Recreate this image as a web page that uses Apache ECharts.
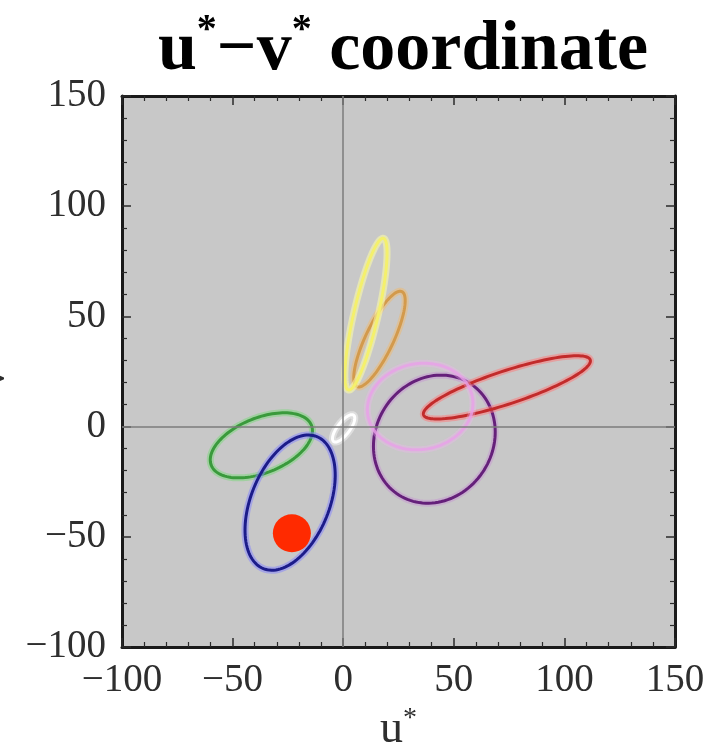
<!DOCTYPE html>
<html><head><meta charset="utf-8">
<script src="https://cdn.jsdelivr.net/npm/echarts@6/dist/echarts.min.js"></script>
<style>html,body{margin:0;padding:0;background:#fff}#c{width:722px;height:744px}</style>
</head><body><div id="c"></div>
<script>
// ---- data (u*, v* units) ----
const ellipseNames = ['orange', 'yellow', 'green', 'blue', 'purple', 'red', 'pink', 'white'];
const centerU   = [16.4, 10.3, -37.0, -24.0, 41.2, 74.0, 34.8, 0.2];
const centerV   = [39.7, 51.0, -8.5, -34.5, -5.7, 17.8, 9.1, -0.8];
const semiMajor = [23.8, 35.3, 24.4, 32.3, 30.0, 39.7, 24.0, 7.5];
const semiMinor = [6.3, 5.5, 12.5, 17.7, 26.5, 7.5, 19.5, 2.8];
const tiltDeg   = [64.8, 77.1, 22, 68, 58, 18.3, 10, 53];
const dotU = [-23.2];
const dotV = [-48.4];
const zeroLines = [0];
const tickMin = -100, tickMax = 150, tickStep = 50;

// ---- styles ----
const lineStyles = {
  orange: {core: '#d39a4c', halo: 'rgba(240,185,110,0.5)'},
  yellow: {core: '#f4f06c', halo: 'rgba(255,255,165,0.55)'},
  green:  {core: '#3a9a3c', halo: 'rgba(120,215,120,0.5)'},
  blue:   {core: '#1c1c8a', halo: 'rgba(130,130,255,0.5)'},
  purple: {core: '#65207a', halo: 'rgba(200,120,220,0.3)'},
  red:    {core: '#c22b2b', halo: 'rgba(255,120,120,0.5)'},
  pink:   {core: 'rgba(232,160,232,0.8)', halo: 'rgba(240,180,240,0.35)'},
  white:  {core: '#ffffff', halo: 'rgba(255,255,255,0.4)'}
};
const serif = "'Liberation Serif','DejaVu Serif',serif";
const fmt = v => v < 0 ? '\u2212' + Math.abs(v) : String(v);

function ellipseItem(style) {
  return function (params, api) {
    const cu = api.value(0), cv = api.value(1), a = api.value(2), b = api.value(3);
    const t = api.value(4) * Math.PI / 180;
    const pts = [];
    const N = 120;
    for (let k = 0; k < N; k++) {
      const s = 2 * Math.PI * k / N;
      const x = cu + a * Math.cos(s) * Math.cos(t) - b * Math.sin(s) * Math.sin(t);
      const y = cv + a * Math.cos(s) * Math.sin(t) + b * Math.sin(s) * Math.cos(t);
      pts.push(api.coord([x, y]));
    }
    return {
      type: 'group',
      children: [
        {type: 'polygon', shape: {points: pts}, style: {fill: 'none', stroke: style.halo, lineWidth: 7}},
        {type: 'polygon', shape: {points: pts}, style: {fill: 'none', stroke: style.core, lineWidth: 3}}
      ]
    };
  };
}

const ellipseSeries = ellipseNames.map((n, i) => ({
  name: n,
  type: 'custom',
  z: 3,
  silent: true,
  renderItem: ellipseItem(lineStyles[n]),
  data: [[centerU[i], centerV[i], semiMajor[i], semiMinor[i], tiltDeg[i]]]
}));

const frame = {show: true, onZero: false, lineStyle: {color: '#1a1a1a', width: 3}};
const tick = {show: true, inside: true, length: 9, lineStyle: {color: '#2a2a2a', width: 1.5}};
const minor = {show: true, splitNumber: 5, length: 5, lineStyle: {color: '#2a2a2a', width: 1.2}};
const label = {fontFamily: serif, fontSize: 39, color: '#2e2e2e', formatter: fmt};
const nameRich = {
  u: {fontFamily: serif, fontSize: 46, color: '#2e2e2e', lineHeight: 50},
  s: {fontFamily: serif, fontSize: 28, color: '#2e2e2e', verticalAlign: 'top', lineHeight: 28}
};

const option = {
  animation: false,
  backgroundColor: '#ffffff',
  title: {
    left: 398, textAlign: 'center', top: 6,
    text: '{m|u}{s|*}{m|\u2212v}{s|*}{m| coordinate}',
    textStyle: {
      rich: {
        m: {fontFamily: serif, fontWeight: 'bold', fontSize: 70, color: '#000', lineHeight: 80},
        s: {fontFamily: serif, fontWeight: 'bold', fontSize: 40, color: '#000', verticalAlign: 'top', lineHeight: 40}
      }
    }
  },
  grid: {left: 122, right: 47, top: 96, bottom: 97, show: true, backgroundColor: '#c8c8c8', borderWidth: 0,
         outerBoundsMode: 'none', containLabel: false},
  xAxis: [
    {type: 'value', position: 'bottom', min: tickMin, max: tickMax, interval: tickStep,
     axisLine: frame, axisTick: tick, minorTick: minor, splitLine: {show: false},
     axisLabel: Object.assign({margin: 14}, label),
     name: '{u|u}{s|*}', nameLocation: 'middle', nameGap: 52, nameTextStyle: {rich: nameRich}},
    {type: 'value', position: 'top', min: tickMin, max: tickMax, interval: tickStep,
     axisLine: frame, axisTick: tick, minorTick: minor, splitLine: {show: false}, axisLabel: {show: false}}
  ],
  yAxis: [
    {type: 'value', position: 'left', min: tickMin, max: tickMax, interval: tickStep,
     axisLine: frame, axisTick: tick, minorTick: minor, splitLine: {show: false},
     axisLabel: Object.assign({margin: 16}, label),
     name: '{u|v}{s|*}', nameLocation: 'middle', nameGap: 95, nameTextStyle: {rich: nameRich}},
    {type: 'value', position: 'right', min: tickMin, max: tickMax, interval: tickStep,
     axisLine: frame, axisTick: tick, minorTick: minor, splitLine: {show: false}, axisLabel: {show: false}}
  ],
  series: [
    {type: 'line', data: [], z: 1, silent: true,
     markLine: {silent: true, symbol: 'none', label: {show: false},
       lineStyle: {color: '#7c7c7c', width: 1.5, type: 'solid'},
       data: [{xAxis: zeroLines[0]}, {yAxis: zeroLines[0]}]}}
  ].concat(ellipseSeries).concat([
    {type: 'scatter', z: 5, silent: true, symbol: 'circle', symbolSize: 38,
     itemStyle: {color: '#ff2a00', opacity: 1},
     data: dotU.map((u, i) => [u, dotV[i]])}
  ])
};
echarts.init(document.getElementById('c')).setOption(option);
</script></body></html>
